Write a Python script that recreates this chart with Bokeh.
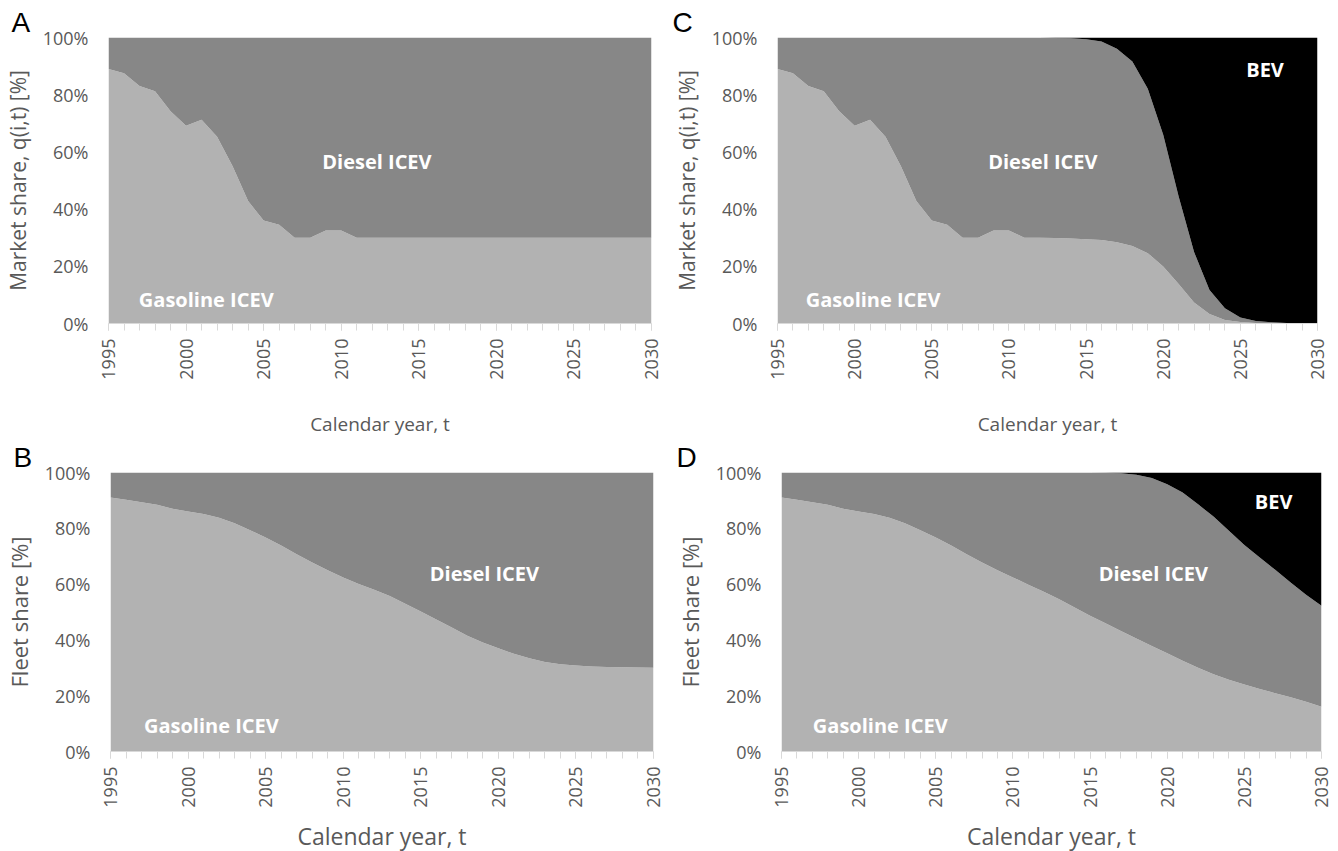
import numpy as np
from bokeh.plotting import figure
from bokeh.layouts import column, row, Spacer
from bokeh.models import Range1d, FixedTicker, NumeralTickFormatter, Label, ColumnDataSource
from bokeh.embed import file_html
from bokeh.resources import INLINE

# ---------------- data ----------------
years = list(range(1995, 2031))

# Panel A: market share, reference scenario
gas_market_A = [0.890, 0.875, 0.830, 0.812, 0.742, 0.691, 0.712, 0.653, 0.550, 0.428,
                0.360, 0.345, 0.300, 0.300, 0.325, 0.325, 0.300, 0.300, 0.300, 0.300,
                0.300, 0.300, 0.300, 0.300, 0.300, 0.300, 0.300, 0.300, 0.300, 0.300,
                0.300, 0.300, 0.300, 0.300, 0.300, 0.300]
bev_market_A = [0.0] * 36

# Panel C: market share, BEV scenario
gas_market_C = [0.890, 0.875, 0.830, 0.812, 0.742, 0.691, 0.712, 0.653, 0.550, 0.428,
                0.360, 0.345, 0.300, 0.300, 0.325, 0.325, 0.300, 0.300, 0.299, 0.297,
                0.295, 0.292, 0.284, 0.271, 0.246, 0.199, 0.138, 0.073, 0.033, 0.012,
                0.005, 0.002, 0.001, 0.000, 0.000, 0.000]
bev_market_C = [0.0, 0.0, 0.0, 0.0, 0.0, 0.0, 0.0, 0.0, 0.0, 0.0,
                0.0, 0.0, 0.0, 0.0, 0.0, 0.0, 0.0, 0.0, 0.002, 0.003,
                0.006, 0.014, 0.039, 0.084, 0.179, 0.340, 0.556, 0.750, 0.883, 0.947,
                0.979, 0.991, 0.996, 0.998, 0.999, 1.000]

# Panel B: fleet share, reference scenario
gas_fleet_B = [0.910, 0.902, 0.893, 0.884, 0.870, 0.860, 0.851, 0.838, 0.818, 0.793,
               0.767, 0.738, 0.707, 0.677, 0.650, 0.624, 0.600, 0.580, 0.557, 0.530,
               0.502, 0.473, 0.444, 0.415, 0.391, 0.370, 0.350, 0.334, 0.321, 0.313,
               0.308, 0.305, 0.303, 0.302, 0.301, 0.300]
bev_fleet_B = [0.0] * 36

# Panel D: fleet share, BEV scenario
gas_fleet_D = [0.910, 0.902, 0.893, 0.884, 0.870, 0.860, 0.851, 0.838, 0.818, 0.793,
               0.767, 0.738, 0.707, 0.677, 0.650, 0.624, 0.598, 0.573, 0.546, 0.516,
               0.487, 0.460, 0.432, 0.405, 0.378, 0.352, 0.325, 0.300, 0.277, 0.257,
               0.240, 0.224, 0.209, 0.194, 0.178, 0.160]
bev_fleet_D = [0.0, 0.0, 0.0, 0.0, 0.0, 0.0, 0.0, 0.0, 0.0, 0.0,
               0.0, 0.0, 0.0, 0.0, 0.0, 0.0, 0.0, 0.0, 0.0, 0.0,
               0.0, 0.001, 0.003, 0.008, 0.020, 0.042, 0.072, 0.114, 0.158, 0.209,
               0.260, 0.305, 0.349, 0.394, 0.438, 0.478]

x_ticks = [1995, 2000, 2005, 2010, 2015, 2020, 2025, 2030]
y_ticks = [0, 0.2, 0.4, 0.6, 0.8, 1.0]

GAS = "#b2b2b2"
DIESEL = "#878787"
BEV = "#000000"
AXIS_TXT = "#595959"
FONT = "Open Sans"


def make_panel(letter, gas, bev, ylabel, top, left, labels):
    gas = np.array(gas)
    bev = np.array(bev)
    diesel = 1.0 - gas - bev
    src = ColumnDataSource(dict(x=years, gas=gas, diesel=diesel, bev=bev))

    fw = 543 if left else 540
    fh = 286 if top else 279
    border_left = 98 if left else 106
    p = figure(frame_width=fw, frame_height=fh,
               x_range=Range1d(1995, 2030), y_range=Range1d(0, 1),
               output_backend="svg", toolbar_location=None,
               title=letter,
               min_border_left=border_left,
               min_border_right=18 if left else 15,
               min_border_top=0,
               min_border_bottom=108 if top else 90)
    p.outline_line_color = None
    p.grid.visible = False
    p.background_fill_color = "white"
    p.border_fill_color = "white"

    # panel letter as the title
    p.title.text_font = "Liberation Sans"
    p.title.text_font_style = "normal"
    p.title.text_font_size = "28px"
    p.title.text_color = "black"
    p.title.align = "left"
    p.title.offset = -(border_left - 1)
    p.title.standoff = 0

    p.varea_stack(["gas", "diesel", "bev"], x="x", source=src,
                  color=[GAS, DIESEL, BEV])

    # x axis
    xa = p.xaxis[0]
    xa.ticker = FixedTicker(ticks=x_ticks, minor_ticks=years)
    xa.major_label_orientation = np.pi / 2
    xa.major_label_text_font = FONT
    xa.major_label_text_font_size = "18px"
    xa.major_label_text_color = AXIS_TXT
    xa.major_label_standoff = 8
    xa.axis_line_color = "#d9d9d9"
    xa.major_tick_line_color = "#d9d9d9"
    xa.minor_tick_line_color = "#d9d9d9"
    xa.major_tick_in = 0
    xa.major_tick_out = 7
    xa.minor_tick_in = 0
    xa.minor_tick_out = 7
    xa.axis_label = "Calendar year, t"
    xa.axis_label_text_font = FONT
    xa.axis_label_text_font_style = "normal"
    xa.axis_label_text_font_size = "19px" if top else "23px"
    xa.axis_label_text_color = AXIS_TXT
    xa.axis_label_standoff = 28 if top else 9

    # y axis
    ya = p.yaxis[0]
    ya.ticker = FixedTicker(ticks=y_ticks)
    ya.formatter = NumeralTickFormatter(format="0%")
    ya.major_label_text_font = FONT
    ya.major_label_text_font_size = "18px"
    ya.major_label_text_color = AXIS_TXT
    ya.major_label_standoff = 20
    ya.axis_line_color = None
    ya.major_tick_line_color = None
    ya.minor_tick_line_color = None
    ya.major_tick_out = 0
    ya.axis_label = ylabel
    ya.axis_label_text_font = FONT
    ya.axis_label_text_font_style = "normal"
    ya.axis_label_text_font_size = "21px" if top else "22px"
    ya.axis_label_text_color = AXIS_TXT
    ya.axis_label_standoff = 8

    for (txt, lx, ly) in labels:
        p.add_layout(Label(x=lx, y=ly, text=txt, text_color="white",
                           text_font=FONT, text_font_style="bold",
                           text_font_size="20px", text_align="center",
                           text_baseline="middle"))
    return p


pA = make_panel("A", gas_market_A, bev_market_A, "Market share, q(i,t) [%]", True, True,
                [("Diesel ICEV", 2012.3, 0.566), ("Gasoline ICEV", 2001.3, 0.084)])
pC = make_panel("C", gas_market_C, bev_market_C, "Market share, q(i,t) [%]", True, False,
                [("Diesel ICEV", 2012.2, 0.566), ("Gasoline ICEV", 2001.2, 0.084),
                 ("BEV", 2026.6, 0.888)])
pB = make_panel("B", gas_fleet_B, bev_fleet_B, "Fleet share [%]", False, True,
                [("Diesel ICEV", 2019.1, 0.638), ("Gasoline ICEV", 2001.5, 0.093)])
pD = make_panel("D", gas_fleet_D, bev_fleet_D, "Fleet share [%]", False, False,
                [("Diesel ICEV", 2019.1, 0.638), ("Gasoline ICEV", 2001.4, 0.093),
                 ("BEV", 2026.9, 0.896)])

layout = column(Spacer(height=4), row(pA, pC), row(pB, pD))
open("out.html", "w").write(file_html(layout, INLINE))
